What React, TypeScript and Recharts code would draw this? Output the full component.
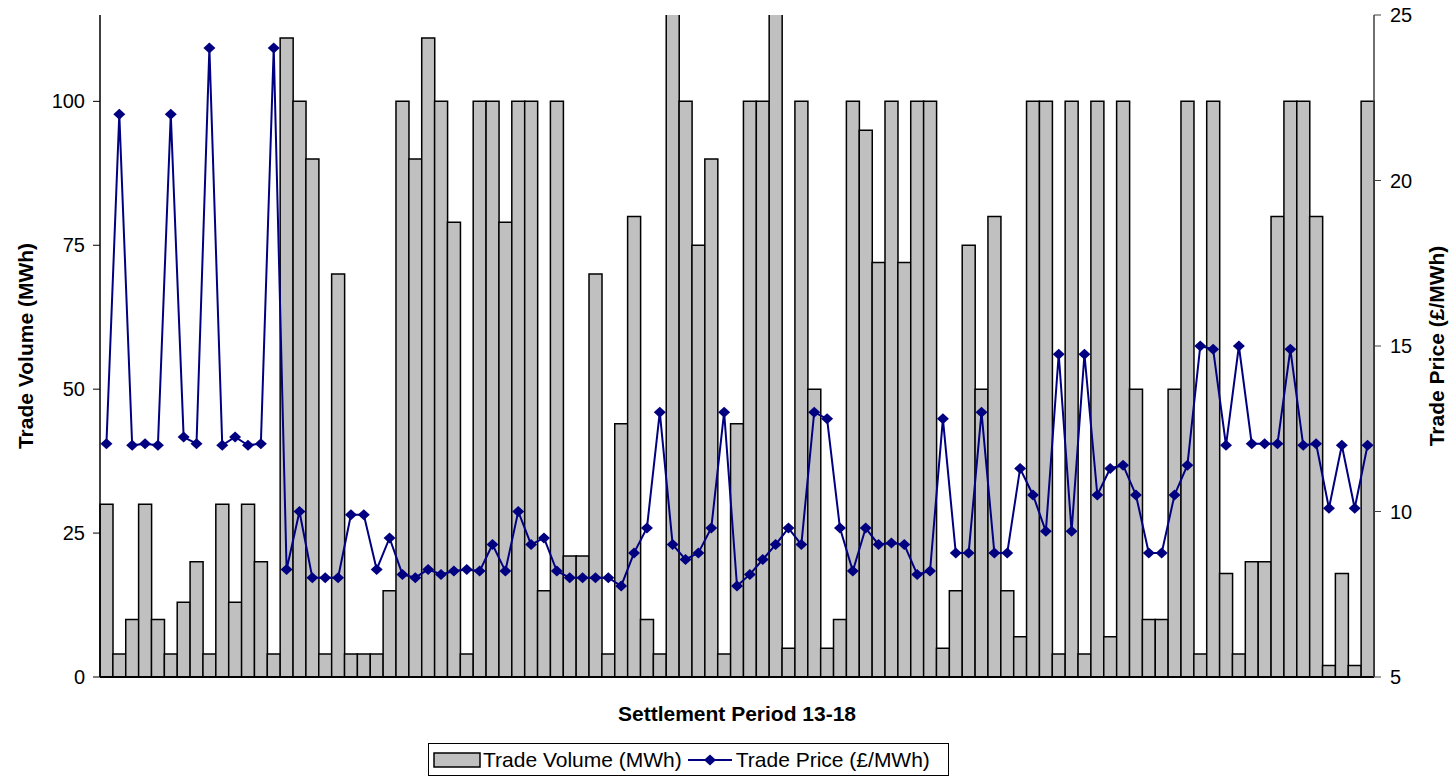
import { ComposedChart, Bar, Line, XAxis, YAxis, Legend } from "recharts"

// Trade volume per settlement period (MWh); two bars run off the top of the axis
const volume = [
  30, 4, 10, 30, 10, 4, 13, 20, 4, 30, 13, 30, 20, 4, 111, 100, 90, 4, 70, 4,
  4, 4, 15, 100, 90, 111, 100, 79, 4, 100, 100, 79, 100, 100, 15, 100, 21, 21, 70, 4,
  44, 80, 10, 4, 120, 100, 75, 90, 4, 44, 100, 100, 120, 5, 100, 50, 5, 10, 100, 95,
  72, 100, 72, 100, 100, 5, 15, 75, 50, 80, 15, 7, 100, 100, 4, 100, 4, 100, 7, 100,
  50, 10, 10, 50, 100, 4, 100, 18, 4, 20, 20, 80, 100, 100, 80, 2, 18, 2, 100,
]

// Trade price (£/MWh)
const price = [
  12.05, 22, 12, 12.05, 12, 22, 12.25, 12.05, 24, 12, 12.25, 12, 12.05, 24, 8.25, 10, 8, 8, 8, 9.9,
  9.9, 8.25, 9.2, 8.1, 8, 8.25, 8.1, 8.2, 8.25, 8.2, 9, 8.2, 10, 9, 9.2, 8.2, 8, 8, 8, 8,
  7.75, 8.75, 9.5, 13, 9, 8.55, 8.75, 9.5, 13, 7.75, 8.1, 8.55, 9, 9.5, 9, 13, 12.8, 9.5, 8.2, 9.5,
  9, 9.05, 9, 8.1, 8.2, 12.8, 8.75, 8.75, 13, 8.75, 8.75, 11.3, 10.5, 9.4, 14.75, 9.4, 14.75, 10.5, 11.3, 11.4,
  10.5, 8.75, 8.75, 10.5, 11.4, 15, 14.9, 12, 15, 12.05, 12.05, 12.05, 14.9, 12, 12.05, 10.1, 12, 10.1, 12,
]

const volumeTicks = [0, 25, 50, 75, 100]
const priceTicks = [5, 10, 15, 20, 25]

const data = volume.map((v, i) => ({ period: String(i + 1), volume: v, price: price[i] }))

const FONT = "'Liberation Sans', Arial, sans-serif"
const NAVY = "#000080"
const titleStyle = { fontFamily: FONT, fontSize: 21, fontWeight: "bold", fill: "#000" }

const Diamond = (props: any) => {
  const { cx, cy, index } = props
  if (cx == null || cy == null) return <g key={index} />
  return (
    <path
      key={index}
      d={`M${cx},${cy - 5.5}L${cx + 6},${cy}L${cx},${cy + 5.5}L${cx - 6},${cy}Z`}
      fill={NAVY}
    />
  )
}

const LegendBox = () => (
  <div style={{ height: 50, position: "relative", fontFamily: FONT, fontSize: 21 }}>
    <div
      style={{
        position: "absolute",
        left: 428,
        top: 16,
        height: 31,
        width: 515,
        border: "1px solid #000",
        display: "flex",
        alignItems: "center",
        paddingLeft: 4,
        boxSizing: "content-box",
        whiteSpace: "nowrap",
      }}
    >
      <svg width={48} height={16}>
        <rect x={1} y={1} width={46} height={14} fill="#c0c0c0" stroke="#000" strokeWidth={1.5} />
      </svg>
      <span style={{ marginLeft: 2 }}>Trade Volume (MWh)</span>
      <svg width={48} height={16} style={{ marginLeft: 4 }}>
        <line x1={2} y1={8} x2={46} y2={8} stroke={NAVY} strokeWidth={2} />
        <path d="M24,2.5L30,8L24,13.5L18,8Z" fill={NAVY} />
      </svg>
      <span style={{ marginLeft: 2 }}>Trade Price (£/MWh)</span>
    </div>
  </div>
)

export default function App() {
  return (
    <div style={{ position: "absolute", left: 0, top: 0, background: "#fff" }}>
      <ComposedChart
        width={1452}
        height={777}
        data={data}
        margin={{ top: 15, right: 0, left: 0, bottom: 0 }}
        barCategoryGap={0}
        barGap={0}
      >
        <XAxis
          dataKey="period"
          tick={false}
          tickLine={false}
          axisLine={{ stroke: "#000", strokeWidth: 2 }}
          height={50}
          label={{
            value: "Settlement Period 13-18",
            position: "insideBottom",
            offset: 6,
            style: titleStyle,
          }}
        />
        <XAxis
          xAxisId="top"
          dataKey="period"
          orientation="top"
          height={0}
          tick={false}
          tickLine={false}
          axisLine={{ stroke: "#808080", strokeWidth: 1.5 }}
        />
        <YAxis
          yAxisId="left"
          domain={[0, 115]}
          ticks={volumeTicks}
          allowDataOverflow
          width={100}
          tickSize={7}
          tickMargin={8}
          axisLine={{ stroke: "#000", strokeWidth: 1.5 }}
          tickLine={{ stroke: "#000" }}
          tick={{ fontFamily: FONT, fontSize: 20, fill: "#000" }}
          label={{
            value: "Trade Volume (MWh)",
            angle: -90,
            position: "insideLeft",
            offset: 26,
            style: { ...titleStyle, textAnchor: "middle" },
          }}
        />
        <YAxis
          yAxisId="right"
          orientation="right"
          domain={[5, 25]}
          ticks={priceTicks}
          width={78}
          tickSize={7}
          tickMargin={9}
          axisLine={{ stroke: "#404040", strokeWidth: 1.5 }}
          tickLine={{ stroke: "#404040" }}
          tick={{ fontFamily: FONT, fontSize: 20, fill: "#000" }}
          label={{
            value: "Trade Price (£/MWh)",
            angle: -90,
            position: "insideRight",
            offset: 15,
            style: { ...titleStyle, textAnchor: "middle" },
          }}
        />
        <Legend verticalAlign="bottom" content={<LegendBox />} />
        <Bar
          yAxisId="left"
          dataKey="volume"
          name="Trade Volume (MWh)"
          fill="#c0c0c0"
          stroke="#000"
          strokeWidth={1.5}
          isAnimationActive={false}
        />
        <Line
          yAxisId="right"
          dataKey="price"
          name="Trade Price (£/MWh)"
          stroke={NAVY}
          strokeWidth={2}
          dot={Diamond}
          activeDot={false}
          isAnimationActive={false}
        />
      </ComposedChart>
    </div>
  )
}
